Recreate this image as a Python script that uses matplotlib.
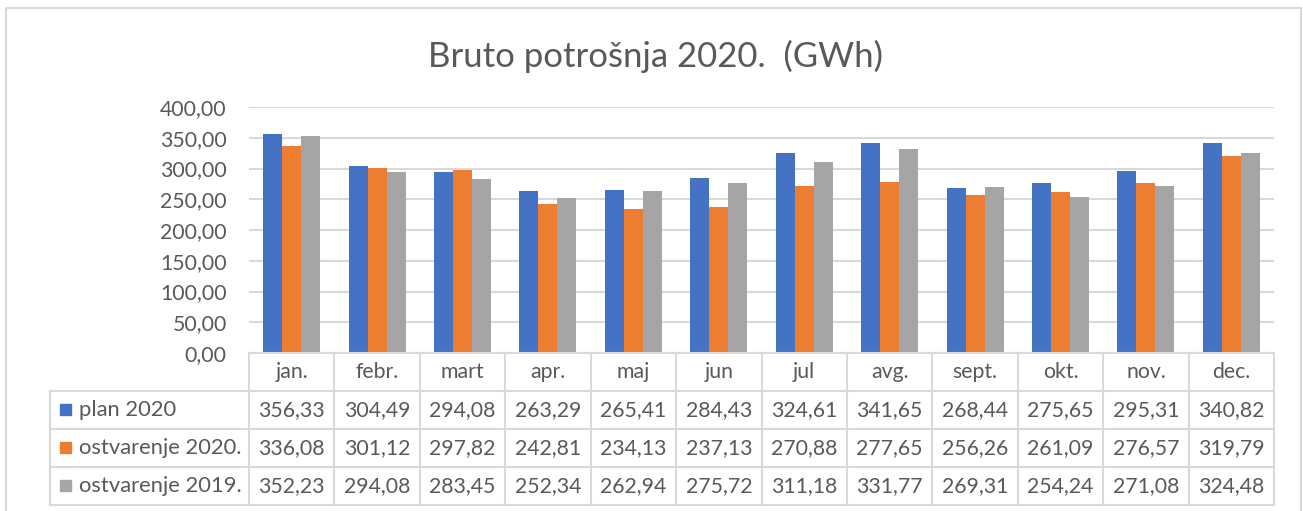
import numpy as np
import matplotlib.pyplot as plt
from matplotlib.patches import Rectangle

months = ["jan.", "febr.", "mart", "apr.", "maj", "jun",
          "jul", "avg.", "sept.", "okt.", "nov.", "dec."]
series_names = ["plan 2020", "ostvarenje 2020.", "ostvarenje 2019."]
plan_2020 = [356.33, 304.49, 294.08, 263.29, 265.41, 284.43,
             324.61, 341.65, 268.44, 275.65, 295.31, 340.82]
ostv_2020 = [336.08, 301.12, 297.82, 242.81, 234.13, 237.13,
             270.88, 277.65, 256.26, 261.09, 276.57, 319.79]
ostv_2019 = [352.23, 294.08, 283.45, 252.34, 262.94, 275.72,
             311.18, 331.77, 269.31, 254.24, 271.08, 324.48]
colors = ["#4472C4", "#ED7D31", "#A5A5A5"]
yticks = [0, 50, 100, 150, 200, 250, 300, 350, 400]

TXT = "#595959"
GRID = "#D9D9D9"
W, H = 1303, 511
FONT = "Lato"
FS = 15.3


def fmt(v):
    return f"{v:.2f}".replace(".", ",")


fig = plt.figure(figsize=(W / 100, H / 100), dpi=100)

# plot area in pixels
px0, px1, py0, py1 = 249, 1274, 107, 353
ax = fig.add_axes([px0 / W, 1 - py1 / H, (px1 - px0) / W, (py1 - py0) / H])

data = [plan_2020, ostv_2020, ostv_2019]
x = np.arange(len(months))
bw = 1 / 4.5
for i, (vals, c) in enumerate(zip(data, colors)):
    ax.bar(x + (i - 1) * bw, vals, width=bw, color=c, zorder=3)

ax.set_xlim(-0.5, len(months) - 0.5)
ax.set_ylim(0, 400)
ax.set_yticks(yticks)
ax.set_yticklabels([fmt(v) for v in yticks], fontsize=FS, color=TXT, family=FONT)
ax.set_xticks([])
ax.tick_params(axis="y", length=0, pad=16)
ax.grid(axis="y", color=GRID, linewidth=1.5, zorder=0)
for s in ax.spines.values():
    s.set_visible(False)

# overlay in pixel coordinates for title, table and frame
ov = fig.add_axes([0, 0, 1, 1], facecolor="none")
ov.set_xlim(0, W)
ov.set_ylim(H, 0)
ov.axis("off")

ov.add_patch(Rectangle((6, 8), 1295, 520, fill=False, edgecolor=GRID, linewidth=1.5))
ov.text(656, 56, "Bruto potrošnja 2020.  (GWh)", ha="center", va="center",
        fontsize=25, color=TXT, family=FONT)

# data table
tx0 = 50
row_h = 38
edges = np.linspace(px0, px1, len(months) + 1)
lw = 1.5
ov.plot([px0, px1], [py1, py1], color=GRID, lw=lw)
for r in range(1, 5):
    y = py1 + r * row_h
    ov.plot([tx0, px1], [y, y], color=GRID, lw=lw)
for e in edges:
    ov.plot([e, e], [py1, py1 + 4 * row_h], color=GRID, lw=lw)
ov.plot([tx0, tx0], [py1 + row_h, py1 + 4 * row_h], color=GRID, lw=lw)

centers = (edges[:-1] + edges[1:]) / 2
for cx, m in zip(centers, months):
    ov.text(cx, py1 + row_h / 2, m, ha="center", va="center",
            fontsize=FS, color=TXT, family=FONT)

for r, (name, vals, c) in enumerate(zip(series_names, data, colors)):
    cy = py1 + (r + 1.5) * row_h
    ov.add_patch(Rectangle((60, cy - 5.5), 11, 11, color=c))
    ov.text(79, cy, name, ha="left", va="center", fontsize=FS + 0.5,
            color=TXT, family=FONT)
    for cx, v in zip(centers, vals):
        ov.text(cx, cy, fmt(v), ha="center", va="center",
                fontsize=FS, color=TXT, family=FONT)

fig.savefig("out.png", dpi=100)
